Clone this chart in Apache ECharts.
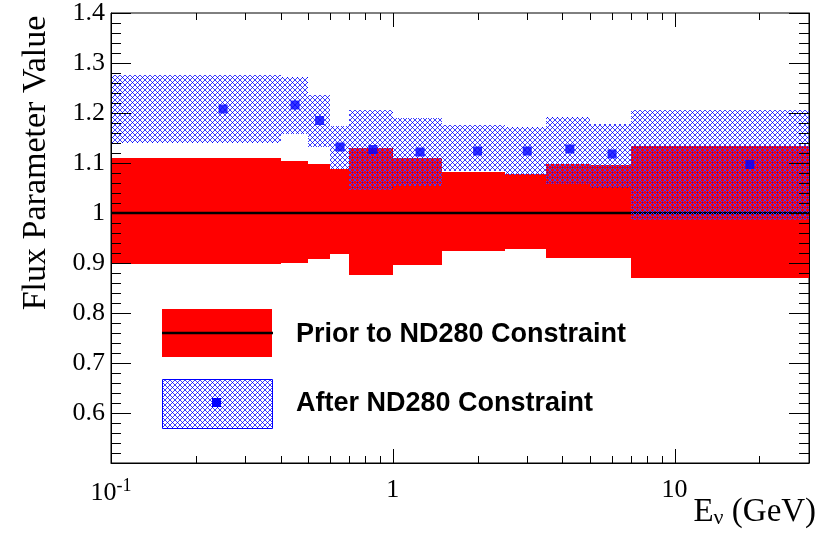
<!DOCTYPE html>
<html><head><meta charset="utf-8">
<script src="https://cdn.jsdelivr.net/npm/echarts@6/dist/echarts.min.js"></script>
<style>html,body{margin:0;padding:0;background:#fff}#chart{width:824px;height:535px}</style>
</head><body><div id="chart"></div>
<script>
// ---- data ----
const binEdges   = [0.1, 0.4, 0.5, 0.6, 0.7, 1.0, 1.5, 2.5, 3.5, 5.0, 7.0, 30];
const priorLow   = [0.898, 0.901, 0.908, 0.918, 0.876, 0.896, 0.923, 0.928, 0.910, 0.910, 0.871];
const priorHigh  = [1.109, 1.105, 1.099, 1.089, 1.130, 1.109, 1.082, 1.078, 1.098, 1.096, 1.135];
const priorCentral = 1.0;
const afterLow   = [1.140, 1.158, 1.132, 1.089, 1.047, 1.054, 1.084, 1.077, 1.058, 1.050, 0.985];
const afterHigh  = [1.277, 1.272, 1.235, 1.173, 1.205, 1.189, 1.175, 1.171, 1.191, 1.178, 1.205];
const pointE     = [0.25, 0.45, 0.55, 0.65, 0.85, 1.25, 2.0, 3.0, 4.25, 6.0, 18.5];
const afterVal   = [1.208, 1.216, 1.185, 1.132, 1.127, 1.122, 1.124, 1.124, 1.128, 1.118, 1.097];
const xMajorTicks = [0.1, 1, 10];
const xMinorTicks = [0.2,0.3,0.4,0.5,0.6,0.7,0.8,0.9, 2,3,4,5,6,7,8,9, 20];
const xTickLabels = ['{n|10}{s|-1}', '{n|1}', '{n|10}'];
const legendLabels = ['Prior to ND280 Constraint', 'After ND280 Constraint'];
const yMin = 0.5, yMax = 1.4, yStep = 0.1;

// ---- hatch pattern (diagonal cross-hatch) ----
const P = 5;
const pc = document.createElement('canvas');
pc.width = P; pc.height = P;
const pctx = pc.getContext('2d');
for (let y = 0; y < P; y++) for (let x = 0; x < P; x++) {
  const a = ((x - y) % P + P) % P === 0, b = (x + y) % P === P - 1;
  if (a && b) { pctx.fillStyle = '#0000ff'; pctx.fillRect(x, y, 1, 1); }
  else if (a || b) { pctx.fillStyle = '#3d3dff'; pctx.fillRect(x, y, 1, 1); }
}
const hatch = { image: pc, repetition: 'repeat' };

function bandData(lo, hi) {
  return lo.map((v, i) => [binEdges[i], binEdges[i + 1], v, hi[i]]);
}
function bandRender(fill) {
  return function (params, api) {
    const p0 = api.coord([api.value(0), api.value(3)]);
    const p1 = api.coord([api.value(1), api.value(2)]);
    const x0 = Math.round(p0[0]), x1 = Math.round(p1[0]);
    const y0 = Math.round(p0[1]), y1 = Math.round(p1[1]);
    return { type: 'rect', shape: { x: x0, y: y0, width: x1 - x0, height: y1 - y0 }, style: { fill: fill } };
  };
}
function tickRender(len) {
  return function (params, api) {
    const b = api.coord([api.value(0), yMin]);
    const t = api.coord([api.value(0), yMax]);
    const x = Math.round(b[0]) + 0.5;
    return { type: 'group', children: [
      { type: 'line', shape: { x1: x, y1: b[1], x2: x, y2: b[1] - len }, style: { stroke: '#000', lineWidth: 1 } },
      { type: 'line', shape: { x1: x, y1: t[1], x2: x, y2: t[1] + len }, style: { stroke: '#000', lineWidth: 1 } }
    ] };
  };
}

const serif = 'Liberation Serif';
const yAxisCommon = {
  type: 'value', min: yMin, max: yMax, interval: yStep, z: 10,
  axisLine: { show: true, lineStyle: { color: '#000', width: 1 } },
  axisTick: { show: true, inside: true, length: 20, lineStyle: { color: '#000' } },
  minorTick: { show: true, splitNumber: 5, length: 10, lineStyle: { color: '#000' } },
  splitLine: { show: false }
};

const chart = echarts.init(document.getElementById('chart'));
chart.setOption({
  animation: false,
  backgroundColor: '#fff',
  grid: { left: 111, right: 15, top: 10, bottom: 72, show: true, borderColor: '#000', borderWidth: 1, backgroundColor: 'transparent' },
  xAxis: [{
    type: 'log', logBase: 10, min: 0.1, max: 30, position: 'bottom', z: 10,
    axisLine: { show: true, lineStyle: { color: '#000', width: 1 } },
    axisTick: { show: false }, minorTick: { show: false }, splitLine: { show: false },
    axisLabel: {
      margin: 14, color: '#000',
      formatter: function (v) {
        for (let i = 0; i < xMajorTicks.length; i++) if (Math.abs(Math.log10(v) - Math.log10(xMajorTicks[i])) < 1e-6) return xTickLabels[i];
        return '';
      },
      rich: {
        n: { fontFamily: serif, fontSize: 26, color: '#000' },
        s: { fontFamily: serif, fontSize: 18, color: '#000', padding: [0, 0, 14, 0] }
      }
    },
    name: '{a|E}{s|ν}{a| (GeV)}', nameLocation: 'end', nameGap: 0,
    nameTextStyle: {
      align: 'right', verticalAlign: 'top', padding: [32, 0, 0, 0],
      rich: {
        a: { fontFamily: serif, fontSize: 33, color: '#000' },
        s: { fontFamily: serif, fontSize: 22, color: '#000', padding: [12, 0, 0, 0] }
      }
    }
  }],
  yAxis: [
    Object.assign({}, yAxisCommon, {
      position: 'left',
      axisLabel: {
        margin: 6, color: '#000', fontFamily: serif, fontSize: 26,
        formatter: function (v) { if (Math.abs(v - yMin) < 1e-6) return ''; return String(parseFloat(v.toFixed(1))); }
      },
      name: 'Flux Parameter Value', nameLocation: 'middle', nameGap: 58,
      nameTextStyle: { fontFamily: serif, fontSize: 34, color: '#000', padding: [0, 0, 0, 150] }
    }),
    Object.assign({}, yAxisCommon, { position: 'right', axisLabel: { show: false } })
  ],
  series: [
    { type: 'custom', name: 'Prior', z: 2, clip: true, renderItem: bandRender('#ff0000'),
      encode: { x: [0, 1], y: [2, 3] }, data: bandData(priorLow, priorHigh) },
    { type: 'line', z: 3, showSymbol: false, lineStyle: { color: '#000', width: 2.5 },
      data: [[binEdges[0], priorCentral], [binEdges[binEdges.length - 1], priorCentral]] },
    { type: 'custom', name: 'After', z: 4, clip: true, renderItem: bandRender(hatch),
      encode: { x: [0, 1], y: [2, 3] }, data: bandData(afterLow, afterHigh) },
    { type: 'scatter', z: 5, symbol: 'rect', symbolSize: 9, itemStyle: { color: '#0000ff' },
      data: pointE.map((e, i) => [e, afterVal[i]]) },
    { type: 'custom', z: 10, renderItem: tickRender(14), encode: { x: 0 }, data: xMajorTicks.map(v => [v]) },
    { type: 'custom', z: 10, renderItem: tickRender(7), encode: { x: 0 }, data: xMinorTicks.map(v => [v]) }
  ],
  graphic: [
    { type: 'rect', z: 20, shape: { x: 162, y: 309, width: 110, height: 48 }, style: { fill: '#ff0000' } },
    { type: 'line', z: 21, shape: { x1: 162, y1: 333, x2: 273, y2: 333 }, style: { stroke: '#000', lineWidth: 2.5 } },
    { type: 'rect', z: 20, shape: { x: 162.5, y: 379.5, width: 110, height: 49 }, style: { fill: hatch, stroke: '#0000ff', lineWidth: 1 } },
    { type: 'rect', z: 21, shape: { x: 212, y: 398, width: 9, height: 9 }, style: { fill: '#0000ff' } },
    { type: 'text', z: 20, x: 296, y: 335, style: { text: legendLabels[0], fill: '#000', fontFamily: 'Liberation Sans', fontWeight: 'bold', fontSize: 27, verticalAlign: 'middle' } },
    { type: 'text', z: 20, x: 296, y: 404, style: { text: legendLabels[1], fill: '#000', fontFamily: 'Liberation Sans', fontWeight: 'bold', fontSize: 27, verticalAlign: 'middle' } }
  ]
});
</script>
</body></html>
